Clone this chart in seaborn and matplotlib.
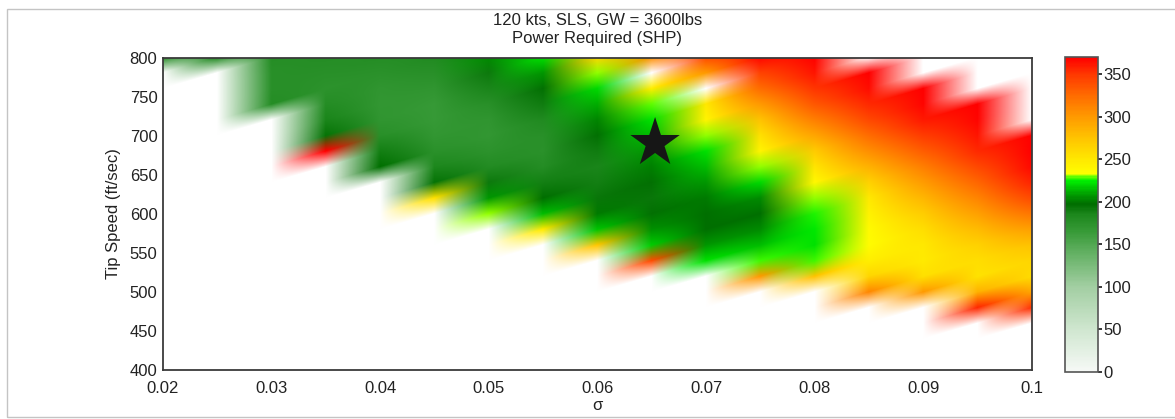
import numpy as np
import matplotlib
matplotlib.use("Agg")
import matplotlib.pyplot as plt
import seaborn as sns
from matplotlib.colors import LinearSegmentedColormap
from matplotlib.transforms import Affine2D
from matplotlib.patches import Rectangle

N = np.nan

# 1. Data: rotor solidity (columns) x tip speed (rows, top = 800 ft/sec)
sigma = [0.020, 0.025, 0.030, 0.035, 0.040, 0.045, 0.050, 0.055, 0.060,
         0.065, 0.070, 0.075, 0.080, 0.085, 0.090, 0.095, 0.100]
tip_speed = [800, 780, 760, 740, 720, 700, 680, 660, 640, 620, 600,
             580, 560, 540, 520, 500, 480, 460, 440, 420, 400]

# power required (SHP), N = no solution at that point
power_shp = [
    [185, 185, 178, 178, 178, 182, 205, 222, 262, 305, 340, 368, 370, N, N, N, N],  # 800
    [N, N, 175, 175, 174, 176, 192, 208, 230, N, 300, 345, 362, 370, N, N, N],      # 780
    [N, N, 175, 172, 170, 170, 185, 196, 220, 245, N, 325, 350, 365, 370, N, N],    # 760
    [N, N, 178, 178, 168, 166, 176, 190, 212, 229, 250, 300, 335, 355, 368, 370, N],  # 740
    [N, N, N, 186, 170, 166, 170, 182, 203, 222, 240, 275, 315, 342, 360, 368, N],  # 720
    [N, N, N, 194, 176, 168, 168, 176, 196, 215, 230, 255, 292, 325, 348, 362, 370],  # 700
    [N, N, N, 370, 188, 174, 172, 174, 190, 208, 222, 240, 270, 305, 332, 355, 370],  # 680
    [N, N, N, N, 198, 184, 180, 178, 186, 202, 214, 230, 252, 285, 315, 342, 366],  # 660
    [N, N, N, N, N, 195, 192, 188, 188, 196, 208, 220, 238, 265, 298, 328, 356],    # 640
    [N, N, N, N, N, 255, 208, 197, 193, 193, 200, 205, 230, 250, 282, 312, 340],    # 620
    [N, N, N, N, N, N, 230, 214, 200, 196, 197, 198, 226, 242, 268, 296, 318],      # 600
    [N, N, N, N, N, N, N, 248, 216, 206, 198, 205, 224, 236, 256, 280, 296],        # 580
    [N, N, N, N, N, N, N, N, 272, 218, 208, 215, 222, 235, 250, 265, 276],          # 560
    [N, N, N, N, N, N, N, N, N, 340, 222, 228, 228, 245, 248, 256, 262],            # 540
    [N, N, N, N, N, N, N, N, N, N, N, 300, 275, 262, 255, 254, 258],                # 520
    [N, N, N, N, N, N, N, N, N, N, N, N, N, 310, 300, 285, 292],                    # 500
    [N, N, N, N, N, N, N, N, N, N, N, N, N, N, N, 355, 352],                        # 480
    [N] * 17,  # 460
    [N] * 17,  # 440
    [N] * 17,  # 420
    [N] * 17,  # 400
]

star_sigma = [0.0653]
star_tip = [691]

x_ticks = [0.02, 0.03, 0.04, 0.05, 0.06, 0.07, 0.08, 0.09, 0.10]
x_labels = ["0.02", "0.03", "0.04", "0.05", "0.06", "0.07", "0.08", "0.09", "0.1"]
y_ticks = [400, 450, 500, 550, 600, 650, 700, 750, 800]
cbar_ticks = [0, 50, 100, 150, 200, 250, 300, 350]

# 2. Style
sns.set_theme(style="white")
plt.rcParams["font.family"] = ["Liberation Sans", "DejaVu Sans"]
text_col = "#222222"

cmap = LinearSegmentedColormap.from_list("shp", [
    (0 / 370, "#f6f9f6"), (50 / 370, "#cfe6cf"), (100 / 370, "#a2cea2"),
    (140 / 370, "#62b062"), (165 / 370, "#379a37"), (185 / 370, "#1c871c"),
    (197 / 370, "#006e00"), (207 / 370, "#009400"), (217 / 370, "#00c800"),
    (225 / 370, "#00f000"), (230 / 370, "#70ff00"), (233 / 370, "#ffff00"),
    (250 / 370, "#ffe800"), (275 / 370, "#ffc400"), (300 / 370, "#ff9a00"),
    (325 / 370, "#ff6c00"), (350 / 370, "#ff3800"), (1.0, "#ff0000")])
cmap.set_bad("white")

fig = plt.figure(figsize=(11.75, 4.19), dpi=100)
ax = fig.add_axes([163 / 1175, 49 / 419, 869 / 1175, 312 / 419])
cax = fig.add_axes([1065 / 1175, 47 / 419, 33 / 1175, 315 / 419])

# 3. Shaded surface: neighbouring columns are blended along a sheared line
grid = np.array(power_shp, dtype=float)[::-1]  # first row = 400 ft/sec
ny, nx = grid.shape
dv = tip_speed[0] - tip_speed[1]
ds = sigma[1] - sigma[0]
lag = np.arange(-(nx - 1), ny)
sheared = np.array([grid[np.clip(lag + i, 0, ny - 1), i] for i in range(nx)]).T
v0 = tip_speed[-1]
extent = (sigma[0] - ds / 2, sigma[-1] + ds / 2,
          v0 + lag[0] * dv - dv / 2, v0 + lag[-1] * dv + dv / 2)
k = dv / ds
shear = Affine2D(np.array([[1, 0, 0], [k, 1, -k * sigma[0]], [0, 0, 1]]))

im = ax.imshow(sheared, origin="lower", extent=extent, aspect="auto",
               cmap=cmap, vmin=0, vmax=370, interpolation="bilinear",
               interpolation_stage="rgba", transform=shear + ax.transData)

sns.scatterplot(x=star_sigma, y=star_tip, marker="*", s=1400, color="#161616",
                edgecolor="none", ax=ax, legend=False, zorder=5)

ax.set_xlim(0.02, 0.1)
ax.set_ylim(400, 800)
ax.set_xticks(x_ticks)
ax.set_xticklabels(x_labels)
ax.set_yticks(y_ticks)
ax.tick_params(direction="in", length=3, labelsize=12, colors=text_col,
               labelcolor=text_col)
ax.tick_params(axis="x", pad=8)
ax.tick_params(axis="y", pad=4)
ax.set_xlabel("σ", fontsize=12, color=text_col, labelpad=1)
ax.set_ylabel("Tip Speed (ft/sec)", fontsize=12, color=text_col, labelpad=6)
ax.set_title("120 kts, SLS, GW = 3600lbs\nPower Required (SHP)", fontsize=12,
             color=text_col, pad=11, linespacing=1.25)
for sp in ax.spines.values():
    sp.set_color("#3a3a3a")
    sp.set_linewidth(1.3)

cb = fig.colorbar(im, cax=cax, ticks=cbar_ticks)
cb.outline.set_edgecolor("#555555")
cb.outline.set_linewidth(1.2)
cax.tick_params(direction="out", length=3, labelsize=12, pad=1,
                colors=text_col, labelcolor=text_col)

fig.add_artist(Rectangle((7 / 1175, 2 / 419), 1.1, 408 / 419, transform=fig.transFigure,
                         fill=False, edgecolor="#c4c4c4", linewidth=1))

fig.savefig("out.png", dpi=100)
